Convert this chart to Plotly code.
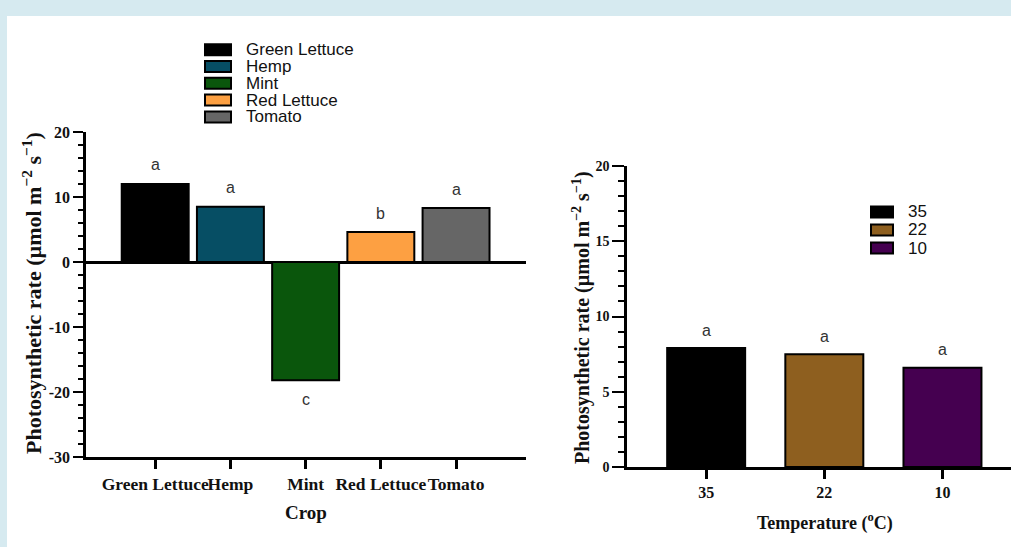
import plotly.graph_objects as go

# ---------------- data ----------------
crops = ["Green Lettuce", "Hemp", "Mint", "Red Lettuce", "Tomato"]
crop_rates = [12.0, 8.5, -18.2, 4.6, 8.3]
crop_letters = ["a", "a", "c", "b", "a"]
crop_colors = ["#000000", "#064e64", "#0a560c", "#fda042", "#666666"]

temps = ["35", "22", "10"]
temp_rates = [7.9, 7.5, 6.6]
temp_letters = ["a", "a", "a"]
temp_colors = ["#000000", "#8e5f1f", "#450050"]

left_ticks = [20, 10, 0, -10, -20, -30]
right_ticks = [0, 5, 10, 15, 20]

W, H = 1011, 547
def px(x):
    return x / W
def py(y):
    return 1 - y / H

SERIF = "Liberation Serif, Times New Roman, serif"
SANS = "Liberation Sans, Arial, sans-serif"

fig = go.Figure()

fig.add_trace(go.Bar(
    x=crops, y=crop_rates, marker=dict(color=crop_colors, line=dict(color="black", width=2)),
    xaxis="x", yaxis="y", showlegend=False, hoverinfo="x+y"))
fig.add_trace(go.Bar(
    x=temps, y=temp_rates, marker=dict(color=temp_colors, line=dict(color="black", width=2)),
    xaxis="x2", yaxis="y2", showlegend=False, hoverinfo="x+y", width=0.66))

ann = []
shapes = []

# background panel
shapes.append(dict(type="rect", xref="paper", yref="paper", x0=px(7), x1=1.0, y0=0, y1=py(16),
                   fillcolor="white", line=dict(width=0), layer="below"))

# significance letters (x given as category index)
for i, (v, l) in enumerate(zip(crop_rates, crop_letters)):
    ann.append(dict(x=i, y=v, xref="x", yref="y", text=l, showarrow=False,
                    xanchor="center", yanchor="middle",
                    yshift=19 if v >= 0 else -19, font=dict(family=SANS, size=16, color="#333")))
for i, (v, l) in enumerate(zip(temp_rates, temp_letters)):
    ann.append(dict(x=i, y=v, xref="x2", yref="y2", text=l, showarrow=False,
                    xanchor="center", yanchor="middle",
                    yshift=18, font=dict(family=SANS, size=16, color="#333")))

# manual legends
for i, (c, col) in enumerate(zip(crops, crop_colors)):
    yc = 49.7 + i * 16.8
    shapes.append(dict(type="rect", xref="paper", yref="paper", x0=px(205), x1=px(231),
                       y0=py(yc + 5.5), y1=py(yc - 5.5), fillcolor=col,
                       line=dict(color="black", width=2)))
    ann.append(dict(x=px(244), y=py(yc), xref="paper", yref="paper", text=c, showarrow=False,
                    xanchor="left", yanchor="middle", font=dict(family=SANS, size=17, color="#111")))
for i, (c, col) in enumerate(zip(temps, temp_colors)):
    yc = 212 + i * 18
    shapes.append(dict(type="rect", xref="paper", yref="paper", x0=px(871), x1=px(893),
                       y0=py(yc + 5.5), y1=py(yc - 5.5), fillcolor=col,
                       line=dict(color="black", width=2)))
    ann.append(dict(x=px(906), y=py(yc), xref="paper", yref="paper", text=c, showarrow=False,
                    xanchor="left", yanchor="middle", font=dict(family=SANS, size=17, color="#111")))

# axis titles
ytitle = "<b>Photosynthetic rate (µmol m<sup>−2</sup> s<sup>−1</sup>)</b>"
ann.append(dict(x=px(32), y=py(293), xref="paper", yref="paper", text=ytitle, textangle=-90,
                xanchor="center", yanchor="middle",
                showarrow=False, font=dict(family=SERIF, size=22, color="#111")))
ann.append(dict(x=px(581), y=py(318), xref="paper", yref="paper", text=ytitle, textangle=-90,
                xanchor="center", yanchor="middle",
                showarrow=False, font=dict(family=SERIF, size=20, color="#111")))
ann.append(dict(x=px(306), y=py(512), xref="paper", yref="paper", text="<b>Crop</b>",
                xanchor="center", yanchor="middle",
                showarrow=False, font=dict(family=SERIF, size=19, color="#111")))
ann.append(dict(x=px(825), y=py(522), xref="paper", yref="paper",
                text="<b>Temperature (<sup>o</sup>C)</b>", xanchor="center", yanchor="middle",
                showarrow=False, font=dict(family=SERIF, size=18, color="#111")))

tickfont = dict(family=SERIF, size=16, color="#111", weight="bold")
rtickfont = dict(family=SERIF, size=14, color="#111", weight="bold")
xtickfont = dict(family=SERIF, size=17.5, color="#111", weight="bold")
x2tickfont = dict(family=SERIF, size=16, color="#111", weight="bold")

fig.update_layout(
    width=W, height=H, margin=dict(l=0, r=0, t=0, b=0, pad=0, autoexpand=False),
    paper_bgcolor="#d6eaf0", plot_bgcolor="white",
    showlegend=False, annotations=ann, shapes=shapes,
    xaxis=dict(domain=[px(86), px(526)], anchor="y", type="category", range=[-0.92, 4.93],
               automargin=False, tickangle=0,
               showline=True, linecolor="black", linewidth=2.5, ticks="outside", ticklen=9,
               tickwidth=2.5, tickcolor="black", tickfont=xtickfont, showgrid=False),
    yaxis=dict(domain=[py(457), py(132)], anchor="x", range=[-30, 20], tickvals=left_ticks,
               ticktext=[str(t) for t in left_ticks], automargin=False,
               showline=True, linecolor="black", linewidth=2.5, ticks="outside", ticklen=10,
               tickwidth=2, tickcolor="black", tickfont=tickfont, showgrid=False,
               zeroline=True, zerolinecolor="black", zerolinewidth=2.5,
               minor=dict(dtick=2, ticks="outside", ticklen=5, tickwidth=2, tickcolor="black")),
    xaxis2=dict(domain=[px(627), 1.0], anchor="y2", type="category", range=[-0.67, 2.58],
                automargin=False, tickangle=0,
                showline=True, linecolor="black", linewidth=2.5, ticks="outside", ticklen=9,
                tickwidth=2.5, tickcolor="black", tickfont=x2tickfont, showgrid=False),
    yaxis2=dict(domain=[py(467), py(166)], anchor="x2", range=[0, 20], tickvals=right_ticks,
                automargin=False,
                showline=True, linecolor="black", linewidth=2.5, ticks="outside", ticklen=12,
                tickwidth=2, tickcolor="black", tickfont=rtickfont, showgrid=False, zeroline=False,
                minor=dict(dtick=1, ticks="outside", ticklen=6, tickwidth=2, tickcolor="black")),
    bargap=0.11,
)

fig.write_html("out.html")
